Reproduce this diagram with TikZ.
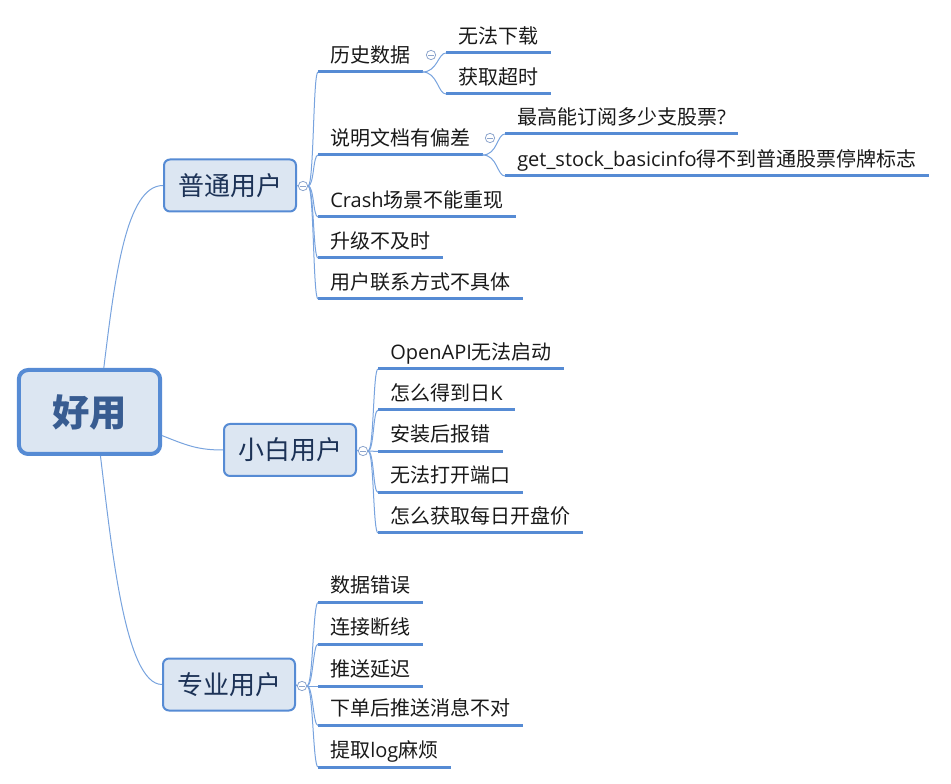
\documentclass[tikz,border=0pt]{standalone}
\usepackage{fontspec}
\setmainfont{Noto Sans CJK SC}
\newfontfamily\latn{Open Sans}
\newcommand{\lt}[1]{{\latn #1}}

\definecolor{mapblue}{RGB}{86,139,212}
\definecolor{mapfill}{RGB}{220,230,242}
\definecolor{connc}{RGB}{120,163,222}
\definecolor{foldc}{RGB}{140,165,205}
\definecolor{topictext}{RGB}{28,50,86}
\definecolor{roottext}{RGB}{56,92,145}

\tikzset{
  topic/.style={draw=mapblue, line width=1.5pt, fill=mapfill, rounded corners=4.5pt,
    minimum width=99pt, minimum height=39pt, inner sep=0pt, text=topictext,
    font=\fontsize{19.5}{23}\selectfont},
  rootbox/.style={topic, line width=3pt, rounded corners=7pt, minimum width=106pt,
    minimum height=63pt, text=roottext, font=\fontsize{28}{32}\selectfont\bfseries},
  uline/.style={draw=mapblue, line width=2.25pt},
  leaf/.style={anchor=south west, inner xsep=9pt, inner ysep=0pt, text height=12pt,
    text depth=7pt, text=black!90, font=\fontsize{15}{18}\selectfont,
    append after command={(\tikzlastnode.south west) edge[uline] (\tikzlastnode.south east)}},
  conn/.style={draw=connc, line width=0.75pt},
  fold/.style={circle, draw=foldc, line width=0.6pt, fill=white, minimum size=7pt, inner sep=0pt,
    path picture={\draw[foldc, line width=0.6pt] ([xshift=-2pt]path picture bounding box.center)
      -- ([xshift=2pt]path picture bounding box.center);}}
}

\begin{document}
\begin{tikzpicture}[x=0.75pt,y=-0.75pt]
\useasboundingbox (0,0) rectangle (951,784);

% centre and main topics
\node[rootbox] (root) at (89.5,412) {好用};
\node[topic] (pt) at (230,185.5) {普通用户};
\node[topic] (xb) at (290,450) {小白用户};
\node[topic] (zy) at (229,684.5) {专业用户};

\draw[conn] (root.72) .. controls +(11,-90) and +(-37,0) .. (pt.west);
\draw[conn] (root.-18) .. controls +(25,10) and +(-25,0) .. (xb.west);
\draw[conn] (root.-76) .. controls +(11,90) and +(-37,0) .. (zy.west);

% fold marks
\node[fold] (ptf) at (303,186) {};
\node[fold] (xbf) at (363,451) {};
\node[fold] (zyf) at (302,686) {};
\draw[conn] (pt.east) -- (ptf.west);
\draw[conn] (xb.east) -- (xbf.west);
\draw[conn] (zy.east) -- (zyf.west);

% 普通用户
\node[leaf] (lssj) at (318,72) {历史数据};
\node[leaf] (smwd) at (318,155) {说明文档有偏差};
\node[leaf] (crash) at (318,217) {\lt{Crash}场景不能重现};
\node[leaf] (sjbj) at (318,258) {升级不及时};
\node[leaf] (lxfs) at (318,299) {用户联系方式不具体};
\foreach \n in {lssj,smwd,crash,sjbj,lxfs}
  \draw[conn] (ptf.east) .. controls +(6,0) and +(-5,0) .. (\n.south west);

\node[leaf] (wfxz) at (446,53) {无法下载};
\node[leaf] (hqcs) at (446,94) {获取超时};
\node[fold] (lssjf) at (431,55) {};
\foreach \n in {wfxz,hqcs}
  \draw[conn] (lssj.south east) .. controls +(15,0) and +(-8,0) .. (\n.south west);

\node[leaf] (zgdy) at (505,134) {最高能订阅多少支股票\lt{?}};
\node[leaf] (basic) at (505,176) {\lt{get\_stock\_basicinfo}得不到普通股票停牌标志};
\node[fold] (smwdf) at (490,138) {};
\foreach \n in {zgdy,basic}
  \draw[conn] (smwd.south east) .. controls +(15,0) and +(-8,0) .. (\n.south west);

% 小白用户
\node[leaf] (open) at (378,369) {\lt{OpenAPI}无法启动};
\node[leaf] (rk) at (378,410) {怎么得到日\lt{K}};
\node[leaf] (azbc) at (378,451.5) {安装后报错};
\node[leaf] (dk) at (378,492.5) {无法打开端口};
\node[leaf] (kpj) at (378,533) {怎么获取每日开盘价};
\foreach \n in {open,rk,azbc,dk,kpj}
  \draw[conn] (xbf.east) .. controls +(6,0) and +(-5,0) .. (\n.south west);

% 专业用户
\node[leaf] (sjcw) at (318,602.5) {数据错误};
\node[leaf] (ljdx) at (318,644) {连接断线};
\node[leaf] (tsyc) at (318,686) {推送延迟};
\node[leaf] (xdts) at (318,725.5) {下单后推送消息不对};
\node[leaf] (tqlog) at (318,767) {提取\lt{log}麻烦};
\foreach \n in {sjcw,ljdx,tsyc,xdts,tqlog}
  \draw[conn] (zyf.east) .. controls +(6,0) and +(-5,0) .. (\n.south west);
\end{tikzpicture}
\end{document}
